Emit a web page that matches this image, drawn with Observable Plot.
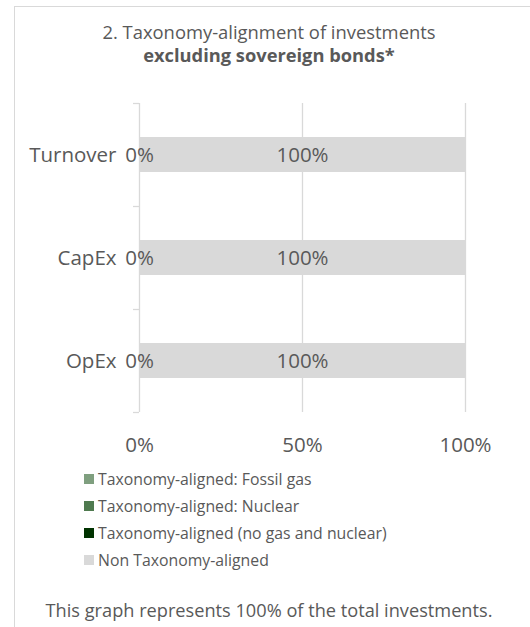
<!DOCTYPE html>
<html>
<head>
<meta charset="utf-8">
<script src="https://cdn.jsdelivr.net/npm/d3@7"></script>
<script src="https://cdn.jsdelivr.net/npm/@observablehq/plot@0.6"></script>
<style>
  body { margin: 0; background: #fff; font-family: "Open Sans", sans-serif; color: #595959; }
  #frame { position: absolute; left: 14px; top: 6px; width: 530px; height: 640px; border: 1px solid #d9d9d9; box-sizing: border-box; }
  .t { position: absolute; left: 0; width: 538px; text-align: center; white-space: nowrap; }
  #chart { position: absolute; left: 0; top: 80px; }
  #legend { position: absolute; left: 84px; top: 465px; font-size: 15.8px; }
  .row { height: 27px; display: flex; align-items: center; white-space: nowrap; }
  .sw { width: 10px; height: 10px; margin-right: 4px; }
</style>
</head>
<body>
<div id="frame"></div>
<div class="t" style="top:20px;font-size:18.4px;line-height:24px;">2. Taxonomy-alignment of investments</div>
<div class="t" style="top:43px;font-size:18.3px;line-height:24px;font-weight:bold;">excluding sovereign bonds*</div>
<div id="chart"></div>
<div id="legend"></div>
<div class="t" style="top:597px;font-size:18.2px;line-height:26px;">This graph represents 100% of the total investments.</div>
<script>
const categories = ["Turnover", "CapEx", "OpEx"];
const seriesNames = ["Taxonomy-aligned: Fossil gas", "Taxonomy-aligned: Nuclear", "Taxonomy-aligned (no gas and nuclear)", "Non Taxonomy-aligned"];
const seriesColors = ["#7f9f7f", "#4f7a4f", "#003300", "#d9d9d9"];
const labelledSeries = ["Taxonomy-aligned (no gas and nuclear)", "Non Taxonomy-aligned"];
const fossilGas = [0, 0, 0];
const nuclear = [0, 0, 0];
const alignedOther = [0, 0, 0];
const nonAligned = [100, 100, 100];
const xTicks = [0, 50, 100];

const seriesValues = [fossilGas, nuclear, alignedOther, nonAligned];
const data = [];
categories.forEach((c, i) => {
  seriesNames.forEach((s, j) => data.push({ cat: c, series: s, value: seriesValues[j][i] }));
});

const chart = Plot.plot({
  width: 530,
  height: 390,
  marginLeft: 139,
  marginRight: 65,
  marginTop: 23,
  marginBottom: 58,
  style: { fontFamily: "Open Sans, sans-serif", color: "#595959", background: "transparent" },
  x: { domain: [0, 100], label: null },
  y: { domain: categories, paddingInner: 0.66, paddingOuter: 0.33, label: null },
  color: { domain: seriesNames, range: seriesColors },
  marks: [
    Plot.gridX(xTicks, { stroke: "#d9d9d9", strokeOpacity: 1, strokeWidth: 1.3 }),
    Plot.barX(data, Plot.stackX({ x: "value", y: "cat", fill: "series", order: seriesNames })),
    Plot.text(data, Plot.stackX({
      x: "value", y: "cat", z: "series", order: seriesNames,
      filter: d => labelledSeries.includes(d.series),
      text: d => d.value + "%", fill: "#595959", fontSize: 20.5
    })),
    Plot.axisX({ ticks: xTicks, tickFormat: d => d + "%", tickSize: 0, tickPadding: 25, fontSize: 20.5, fill: "#595959", label: null }),
    Plot.axisY({ tickSize: 0, tickPadding: 23, fontSize: 20.5, fill: "#595959", label: null }),
    Plot.axisY({ tickSize: 6, text: null, dy: 51.5, stroke: "#d9d9d9", strokeWidth: 1.3, label: null }),
    Plot.axisY({ ticks: categories.slice(0, 1), tickSize: 6, text: null, dy: -51.5, stroke: "#d9d9d9", strokeWidth: 1.3, label: null })
  ]
});
document.getElementById("chart").appendChild(chart);

const legend = document.getElementById("legend");
seriesNames.forEach((s, j) => {
  const row = document.createElement("div");
  row.className = "row";
  const sw = document.createElement("div");
  sw.className = "sw";
  sw.style.background = seriesColors[j];
  const tx = document.createElement("span");
  tx.textContent = s;
  row.appendChild(sw);
  row.appendChild(tx);
  legend.appendChild(row);
});
</script>
</body>
</html>
